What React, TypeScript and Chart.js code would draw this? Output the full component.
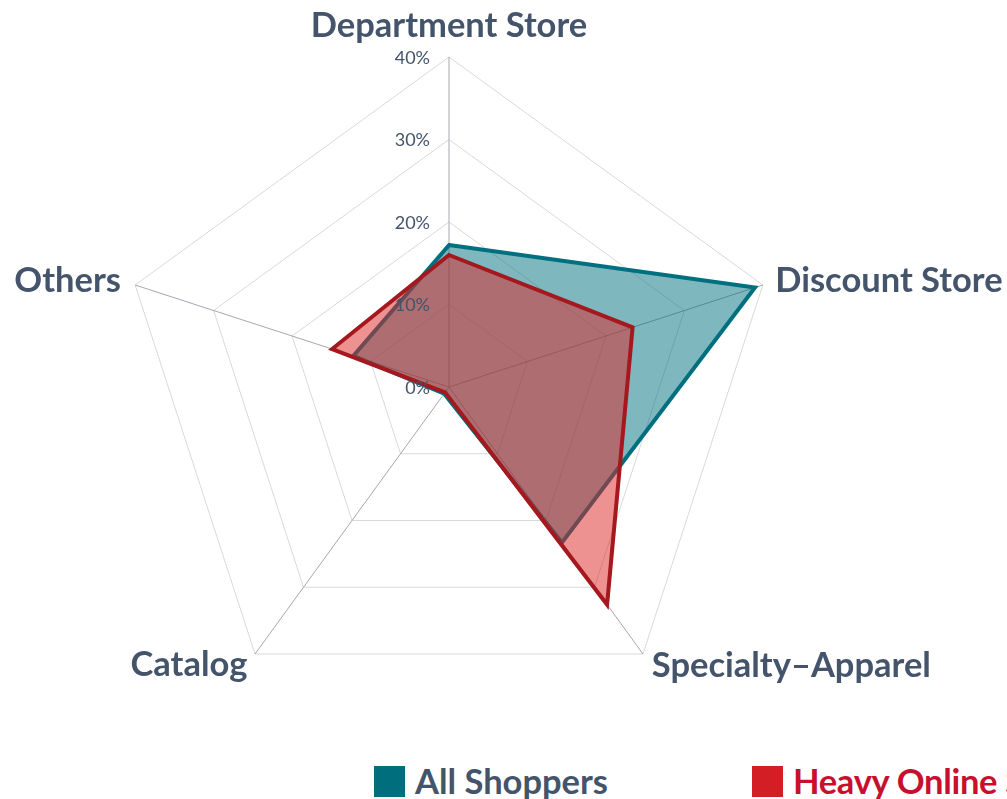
import React, { useEffect, useRef } from "react";
import { Chart, registerables } from "chart.js";

Chart.register(...registerables);

const categories = ["Department Store", "Discount Store", "Specialty–Apparel", "Catalog", "Others"];
const allShoppers = [17.2, 39.0, 23.3, 1.0, 12.2];
const heavyOnline = [16.0, 23.4, 32.6, 0.8, 14.9];
const tickValues = [0, 10, 20, 30, 40];
const seriesNames = ["All Shoppers", "Heavy Online Shoppers"];

const labelPadding = [31, 13, 15, 13, 15];
const TEXT = "#44546A";
const FONT = "Lato, 'Open Sans', sans-serif";

const tickLabelPlugin = {
  id: "tickLabels",
  afterDatasetsDraw(chart: any) {
    const s = chart.scales.r;
    const ctx = chart.ctx;
    ctx.save();
    ctx.font = `18px ${FONT}`;
    ctx.fillStyle = TEXT;
    ctx.textAlign = "right";
    ctx.textBaseline = "middle";
    tickValues.forEach((v) => {
      const d = s.getDistanceFromCenterForValue(v);
      ctx.fillText(`${v}%`, s.xCenter - 19, s.yCenter - d + 1);
    });
    ctx.restore();
  },
};

export default function App() {
  const ref = useRef<HTMLCanvasElement>(null);
  useEffect(() => {
    const chart = new Chart(ref.current!, {
      type: "radar",
      data: {
        labels: categories,
        datasets: [
          {
            label: seriesNames[0],
            data: allShoppers,
            borderColor: "rgb(0,112,128)",
            backgroundColor: "rgba(0,112,128,0.5)",
            borderWidth: 4,
            pointRadius: 0,
            fill: true,
            order: 1,
          },
          {
            label: seriesNames[1],
            data: heavyOnline,
            borderColor: "rgb(164,24,30)",
            backgroundColor: "rgba(222,36,36,0.5)",
            borderWidth: 4,
            pointRadius: 0,
            fill: true,
            order: 0,
          },
        ],
      },
      options: {
        responsive: false,
        animation: false,
        layout: { padding: 0 },
        plugins: { legend: { display: false }, tooltip: { enabled: false } },
        elements: { line: { tension: 0, borderJoinStyle: "miter" } },
        scales: {
          r: {
            min: 0,
            max: 40,
            beginAtZero: true,
            ticks: { display: false, stepSize: 10 },
            grid: { color: "#D9D9D9", lineWidth: 1 },
            angleLines: { color: "#A6A6B0", lineWidth: 1 },
            pointLabels: {
              color: TEXT,
              padding: (ctx: any) => labelPadding[ctx.index],
              font: { family: FONT, size: 34.5, weight: "bold", lineHeight: 0 },
            },
          },
        },
      },
      plugins: [tickLabelPlugin],
    });
    return () => chart.destroy();
  }, []);

  const legendText = { position: "absolute" as const, top: 761, fontFamily: FONT, fontWeight: 700, fontSize: 34.5, lineHeight: "40px", whiteSpace: "nowrap" as const };
  return (
    <div style={{ position: "fixed", left: 0, top: 0, width: 1007, height: 799, overflow: "hidden", background: "#fff" }}>
      <canvas ref={ref} width={1240} height={722} style={{ position: "absolute", left: -171, top: 11, width: 1240, height: 722 }} />
      <div style={{ position: "absolute", left: 374, top: 766, width: 31, height: 31, background: "#006E7D" }} />
      <div style={{ ...legendText, left: 415, color: TEXT }}>{seriesNames[0]}</div>
      <div style={{ position: "absolute", left: 752, top: 766, width: 31, height: 31, background: "#D21E24" }} />
      <div style={{ ...legendText, left: 793, color: "#C8102E", letterSpacing: "-0.3px" }}>{seriesNames[1]}</div>
    </div>
  );
}
